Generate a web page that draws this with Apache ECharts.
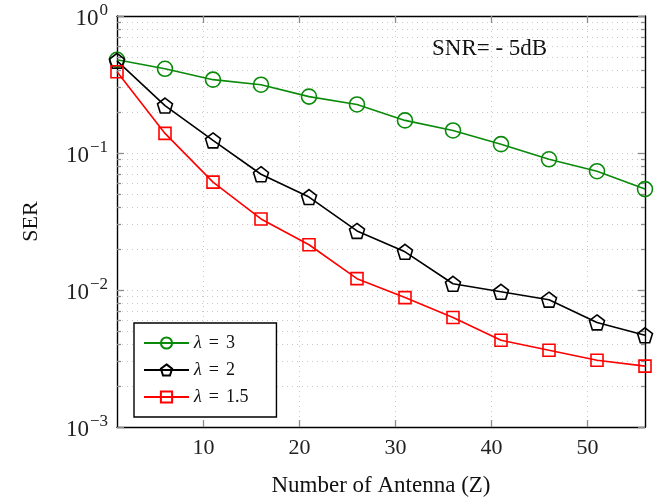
<!DOCTYPE html>
<html lang="en">
    <head>
        <meta charset="UTF-8" />
        <title>SER vs Number of Antenna</title>
        <script src="https://cdn.jsdelivr.net/npm/echarts@6/dist/echarts.min.js"></script>
        <style>
            body {
                margin: 0;
                padding: 0;
                background: #fff;
            }
            #chart {
                width: 665px;
                height: 502px;
            }
        </style>
    </head>
    <body>
        <div id="chart"></div>
        <script>
            // number of antennas (x)
            let antennas = [1, 6, 11, 16, 21, 26, 31, 36, 41, 46, 51, 56];
            // SER for each lambda
            let serL3 = [0.479, 0.412, 0.343, 0.315, 0.258, 0.226, 0.173, 0.146, 0.116, 0.09, 0.0736, 0.0545];
            let serL2 = [0.471, 0.222, 0.1236, 0.07, 0.0477, 0.027, 0.019, 0.0111, 0.0097, 0.0085, 0.0058, 0.00467];
            let serL15 = [0.392, 0.139, 0.0613, 0.033, 0.0214, 0.0121, 0.0088, 0.0063, 0.0043, 0.00363, 0.00307, 0.00278];
            let legendNames = ['3', '2', '1.5'];

            let xTicks = [10, 20, 30, 40, 50];
            let yMajor = [0.001, 0.01, 0.1, 1];
            let yMinor = [];
            for (let e = -3; e < 0; e++) {
                for (let m = 2; m <= 9; m++) {
                    yMinor.push(+(m * Math.pow(10, e)).toPrecision(3));
                }
            }

            const serif = "'Liberation Serif', 'DejaVu Serif', serif";
            const tickGray = '#8c8c8c';
            const gridStyle = { color: '#c8c8c8', type: [1, 4], width: 1 };
            const pentagon = 'path://M0,-1 L0.951,-0.309 L0.588,0.809 L-0.588,0.809 L-0.951,-0.309 Z';

            function pairs(ys) {
                return antennas.map((x, i) => [x, ys[i]]);
            }

            function yAxisDef(position, values, len, withLabel, withGrid) {
                return {
                    type: 'log',
                    logBase: 10,
                    min: 0.001,
                    max: 1,
                    position: position,
                    axisLine: { show: withLabel, lineStyle: { color: '#000', width: 1.4 } },
                    axisTick: { show: true, inside: true, length: len, customValues: values, lineStyle: { color: tickGray, width: 1.3 } },
                    axisLabel: withLabel
                        ? {
                              customValues: yMajor,
                              margin: 9,
                              formatter: (v) => '{b|10}{s|' + Math.round(Math.log10(v)).toString().replace('-', '\u2212') + '}',
                              rich: {
                                  b: { fontFamily: serif, fontSize: 23, color: '#222', padding: [6, 0, 0, 0] },
                                  s: { fontFamily: serif, fontSize: 17, color: '#222', padding: [0, 0, 10, 1] }
                              }
                          }
                        : { show: false },
                    splitLine: { show: withGrid, lineStyle: gridStyle },
                    name: withLabel ? 'SER' : '',
                    nameLocation: 'middle',
                    nameGap: 75,
                    nameRotate: 90,
                    nameTextStyle: { fontFamily: serif, fontSize: 22, color: '#111' }
                };
            }

            let chart = echarts.init(document.getElementById('chart'));
            let option = {
                animation: false,
                backgroundColor: '#fff',
                grid: { left: 117, right: 20, top: 16, bottom: 73 },
                xAxis: [
                    {
                        type: 'value',
                        min: 1,
                        max: 56,
                        position: 'bottom',
                        axisLine: { lineStyle: { color: '#000', width: 1.4 } },
                        axisTick: { inside: true, length: 7, customValues: xTicks, lineStyle: { color: tickGray, width: 1.3 } },
                        axisLabel: { customValues: xTicks, margin: 10, fontFamily: serif, fontSize: 22, color: '#222' },
                        splitLine: { show: true, lineStyle: gridStyle },
                        name: 'Number of Antenna (Z)',
                        nameLocation: 'middle',
                        nameGap: 47,
                        nameTextStyle: { fontFamily: serif, fontSize: 23, color: '#111' }
                    },
                    {
                        type: 'value',
                        min: 1,
                        max: 56,
                        position: 'top',
                        axisLine: { lineStyle: { color: '#000', width: 1.4 } },
                        axisTick: { inside: true, length: 7, customValues: xTicks, lineStyle: { color: tickGray, width: 1.3 } },
                        axisLabel: { show: false },
                        splitLine: { show: false }
                    }
                ],
                yAxis: [
                    yAxisDef('left', yMajor, 7, true, true),
                    yAxisDef('left', yMinor, 4, false, true),
                    Object.assign(yAxisDef('right', yMajor, 7, false, false), { axisLine: { show: true, lineStyle: { color: '#000', width: 1.4 } } }),
                    yAxisDef('right', yMinor, 4, false, false)
                ],
                legend: {
                    orient: 'vertical',
                    left: 134,
                    top: 323,
                    padding: [11, 28, 11, 9],
                    itemWidth: 45,
                    itemHeight: 14,
                    itemGap: 9,
                    backgroundColor: '#fff',
                    borderColor: '#000',
                    borderWidth: 1.4,
                    borderRadius: 0,
                    formatter: (name) => '{i|\u03bb}{e|=}' + name,
                    textStyle: {
                        fontFamily: serif,
                        fontSize: 18,
                        color: '#111',
                        rich: {
                            i: { fontFamily: serif, fontStyle: 'italic', fontSize: 18, color: '#111' },
                            e: { fontFamily: serif, fontSize: 18, color: '#111', padding: [0, 7, 0, 7] }
                        }
                    }
                },
                graphic: [
                    {
                        type: 'text',
                        left: 432,
                        top: 37,
                        style: { text: 'SNR= - 5dB', font: "23px 'Liberation Serif', serif", fill: '#111' }
                    }
                ],
                series: [
                    {
                        name: legendNames[0],
                        type: 'line',
                        data: pairs(serL3),
                        symbol: 'circle',
                        symbolSize: 15,
                        lineStyle: { color: '#0a8a0a', width: 1.6 },
                        itemStyle: { color: 'rgba(0,0,0,0)', borderColor: '#0a8a0a', borderWidth: 1.6 }
                    },
                    {
                        name: legendNames[1],
                        type: 'line',
                        data: pairs(serL2),
                        symbol: pentagon,
                        symbolSize: 15,
                        lineStyle: { color: '#000', width: 1.6 },
                        itemStyle: { color: 'rgba(0,0,0,0)', borderColor: '#000', borderWidth: 1.6 }
                    },
                    {
                        name: legendNames[2],
                        type: 'line',
                        data: pairs(serL15),
                        symbol: 'rect',
                        symbolSize: 12,
                        lineStyle: { color: '#ff0000', width: 1.6 },
                        itemStyle: { color: 'rgba(0,0,0,0)', borderColor: '#ff0000', borderWidth: 1.6 }
                    }
                ]
            };
            chart.setOption(option);
        </script>
    </body>
</html>
